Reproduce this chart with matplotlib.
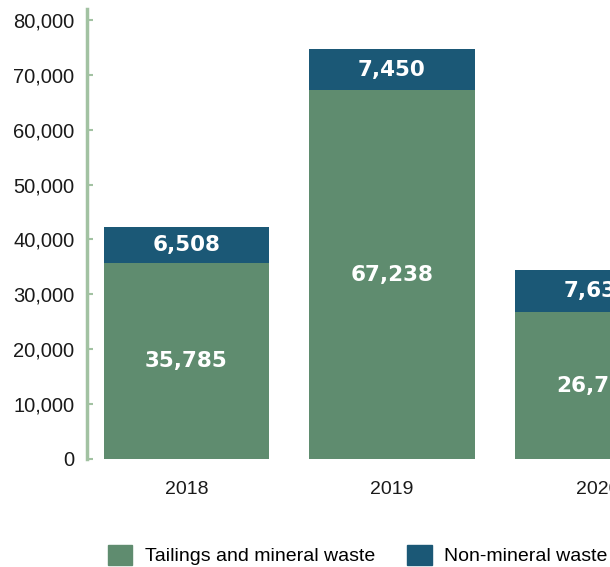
import matplotlib.pyplot as plt
from matplotlib.patches import Patch
import numpy as np

years = ["2018", "2019", "2020"]
tailings = [35785, 67238, 26735]
non_mineral = [6508, 7450, 7638]

green = "#5f8c6f"
blue = "#1b5876"
spine_col = "#a2c2a2"

plt.rcParams["font.family"] = ["Liberation Sans", "DejaVu Sans"]

fig = plt.figure(figsize=(6.1, 5.67), dpi=100)
# axes runs past the right edge, the 2020 bar is cut off like in the original
ax = fig.add_axes([87 / 610, 108 / 567, (700 - 87) / 610, 450 / 567])

x = np.arange(len(years))
w = 0.805
b1 = ax.bar(x, tailings, w, color=green, zorder=2)
b2 = ax.bar(x, non_mineral, w, bottom=tailings, color=blue, zorder=2)

for i in range(len(years)):
    ax.text(x[i], tailings[i] / 2, "{:,}".format(tailings[i]), ha="center", va="center",
            color="white", fontsize=15.5, fontweight="heavy", family="DejaVu Sans")
    ax.text(x[i], tailings[i] + non_mineral[i] / 2, "{:,}".format(non_mineral[i]),
            ha="center", va="center", color="white", fontsize=15.5, fontweight="heavy",
            family="DejaVu Sans")

ax.set_xlim(-0.484, 2.5)
ax.set_ylim(0, 82000)
ax.set_yticks(range(0, 80001, 10000))
ax.set_yticklabels(["{:,}".format(v) for v in range(0, 80001, 10000)])
ax.set_xticks(x)
ax.set_xticklabels(years)

for s in ["top", "right", "bottom"]:
    ax.spines[s].set_visible(False)
ax.spines["left"].set_color(spine_col)
ax.spines["left"].set_linewidth(2.5)
ax.tick_params(axis="y", direction="in", length=4, width=1.5, color=spine_col,
               pad=9, labelsize=14.5, labelcolor="#1a1a1a")
ax.tick_params(axis="x", length=0, pad=16, labelsize=14, labelcolor="#1a1a1a")

handles = [Patch(color=green), Patch(color=blue)]
fig.legend(handles, ["Tailings and mineral waste", "Non-mineral waste"], ncol=2,
           loc="center left", bbox_to_anchor=(108 / 610, 12 / 567), frameon=False,
           fontsize=14, handlelength=1.25, handleheight=1.25, handletextpad=0.65,
           columnspacing=1.65, borderpad=0, borderaxespad=0)

plt.savefig("out.png", dpi=100)
plt.close()
